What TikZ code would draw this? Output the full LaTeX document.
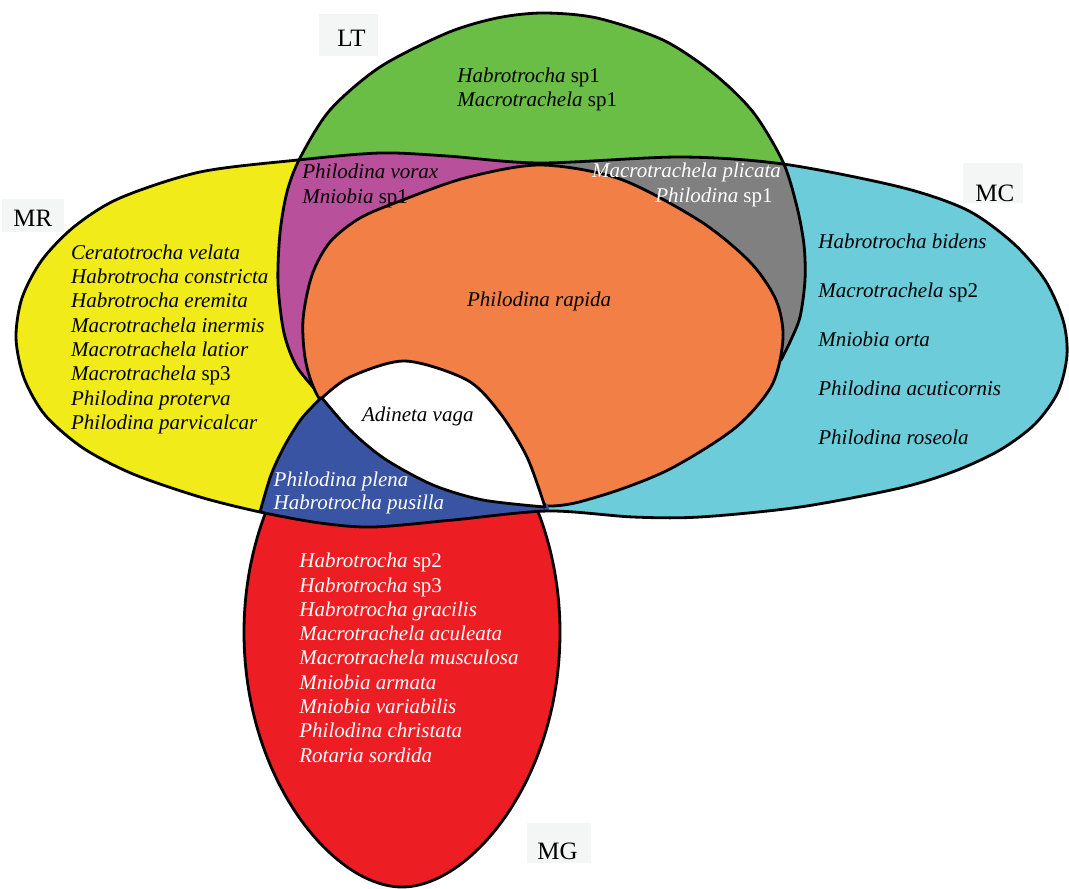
\documentclass[tikz,border=0pt]{standalone}
\usepackage{fontspec}
\setmainfont{Liberation Serif}
\definecolor{cYellow}{RGB}{240,235,25}
\definecolor{cGreen}{RGB}{106,189,69}
\definecolor{cMagenta}{RGB}{184,80,155}
\definecolor{cGray}{RGB}{128,128,128}
\definecolor{cOrange}{RGB}{242,128,70}
\definecolor{cCyan}{RGB}{108,204,218}
\definecolor{cBlue}{RGB}{58,84,164}
\definecolor{cRed}{RGB}{237,29,36}
\definecolor{cLabel}{RGB}{244,246,246}
\begin{document}
\begin{tikzpicture}[x=0.5pt,y=-0.5pt,line join=round,
  outline/.style={draw=black,line width=1.4pt},
  sp/.style={font=\fontsize{10.5}{12}\selectfont\itshape,inner sep=0pt,anchor=base west},
  spw/.style={sp,text=white},
  lbl/.style={font=\fontsize{12.5}{14}\selectfont,inner sep=0pt,anchor=base west},
  lblbox/.style={fill=cLabel,draw=none},
  pathB/.style={insert path={plot[smooth cycle] coordinates {(260,512) (200,497) (133,474) (83,448) (45,415) (24,378) (16,338) (22,298) (42,260) (75,226) (120,198) (200,172) (298,160) (380,153) (447,156) (540,163) (680,157) (783,164) (900,187) (967,210) (1013,243) (1045,280) (1063,320) (1067,355) (1058,392) (1035,424) (1000,450) (955,471) (900,488) (800,507) (700,517) (633,517) (548,511) (453,520) (373,527) (320,523)}}},
  pathLT/.style={insert path={plot[smooth] coordinates {(322,397) (297,367) (284,333) (278,283) (280,233) (287,192) (300,158) (330,110) (380,67) (447,33) (497,18) (543,13) (597,18) (663,40) (713,73) (753,112) (783,162) (797,207) (804,245) (805,280) (800,317) (790,342) (781,360)} -- (600,420) -- cycle}},
  pathRed/.style={insert path={(560,632) .. controls (560,780) and (470,887) .. (402,887) .. controls (334,887) and (244,780) .. (244,632) .. controls (244,520) and (300,400) .. (402,390) .. controls (504,400) and (560,520) .. (560,632) -- cycle}},
  pathOrange/.style={insert path={plot[smooth cycle] coordinates {(540,165) (620,179) (700,221) (750,262) (776,300) (783,338) (772,385) (735,428) (668,470) (600,496) (545,506) (440,492) (360,450) (320,400) (306,363) (303,320) (312,275) (330,242) (360,218) (400,201) (465,178)}}},
  pathWhite/.style={insert path={plot[smooth] coordinates {(322,398) (350,377) (405,361) (467,380) (500,413) (527,457) (545,507)} -- plot[smooth] coordinates {(545,507) (483,500) (433,485) (385,459) (350,430) (322,398)} -- cycle}},
  pathBlueLeft/.style={insert path={plot[smooth] coordinates {(322,397) (302,418) (285,445) (271,475) (260,512)}}}
]
\useasboundingbox (0,0) rectangle (1069,888);
\clip (0,0) rectangle (1069,888);
% MG
\path[pathRed,fill=cRed,outline];
% MR and MC
\begin{scope}
  \clip[pathB];
  \fill[cYellow] (0,0) rectangle (540,888);
  \fill[cCyan] (540,0) rectangle (1069,888);
\end{scope}
% LT
\path[pathLT,fill=cGreen];
\begin{scope}
  \clip[pathLT];
  \clip[pathB];
  \fill[cMagenta] (0,0) rectangle (540,888);
  \fill[cGray] (540,0) rectangle (1069,888);
\end{scope}
\path[pathLT,outline];
% centre
\path[pathOrange,fill=cOrange,outline];
\begin{scope}
  \clip[pathB];
  \fill[cBlue] plot[smooth] coordinates {(322,397) (302,418) (285,445) (271,475) (260,512)} -- (255,560) -- (560,560) -- (548,505) -- (470,440) -- cycle;
\end{scope}
\path[pathWhite,fill=white,outline];
\path[pathBlueLeft,outline];
\path[pathB,outline];
% set labels
\fill[lblbox] (319,14) rectangle (378,56);
\node[lbl] (lt) at (337,46.7) {LT};
\fill[lblbox] (2,199) rectangle (64,232);
\node[lbl] (mr) at (13,226.7) {MR};
\fill[lblbox] (963,163) rectangle (1023,203);
\node[lbl] (mc) at (975,201) {MC};
\fill[lblbox] (527,823) rectangle (591,863);
\node[lbl] (mg) at (537,859.3) {MG};
% species
\node[sp] (lt1) at (457,82.7) {Habrotrocha \textup{sp1}};
\node[sp] (lt2) at (457,106.7) {Macrotrachela \textup{sp1}};
\node[sp] (mrlt1) at (302,178.3) {Philodina vorax};
\node[sp] (mrlt2) at (302,203.3) {Mniobia \textup{sp1}};
\node[spw] (ltmc1) at (591.7,177.3) {Macrotrachela plicata};
\node[spw] (ltmc2) at (655,202.7) {Philodina \textup{sp1}};
\node[sp] (core) at (466.7,306.7) {Philodina rapida};
\node[sp] (all) at (361.7,421.7) {Adineta vaga};
\node[spw] (mrmg1) at (273.3,486.5) {Philodina plena};
\node[spw] (mrmg2) at (273.3,509.5) {Habrotrocha pusilla};
\foreach \t [count=\i] in {Ceratotrocha velata, Habrotrocha constricta, Habrotrocha eremita, Macrotrachela inermis, Macrotrachela latior, Macrotrachela \textup{sp3}, Philodina proterva, Philodina parvicalcar}
  \node[sp] (mrs\i) at (70.7,{259.3+24.3*(\i-1)}) {\t};
\foreach \t [count=\i] in {Habrotrocha bidens, Macrotrachela \textup{sp2}, Mniobia orta, Philodina acuticornis, Philodina roseola}
  \node[sp] (mcs\i) at (818,{248.3+49*(\i-1)}) {\t};
\foreach \t [count=\i] in {Habrotrocha \textup{sp2}, Habrotrocha \textup{sp3}, Habrotrocha gracilis, Macrotrachela aculeata, Macrotrachela musculosa, Mniobia armata, Mniobia variabilis, Philodina christata, Rotaria sordida}
  \node[spw] (mgs\i) at (299,{567.7+24.3*(\i-1)}) {\t};
\end{tikzpicture}
\end{document}
